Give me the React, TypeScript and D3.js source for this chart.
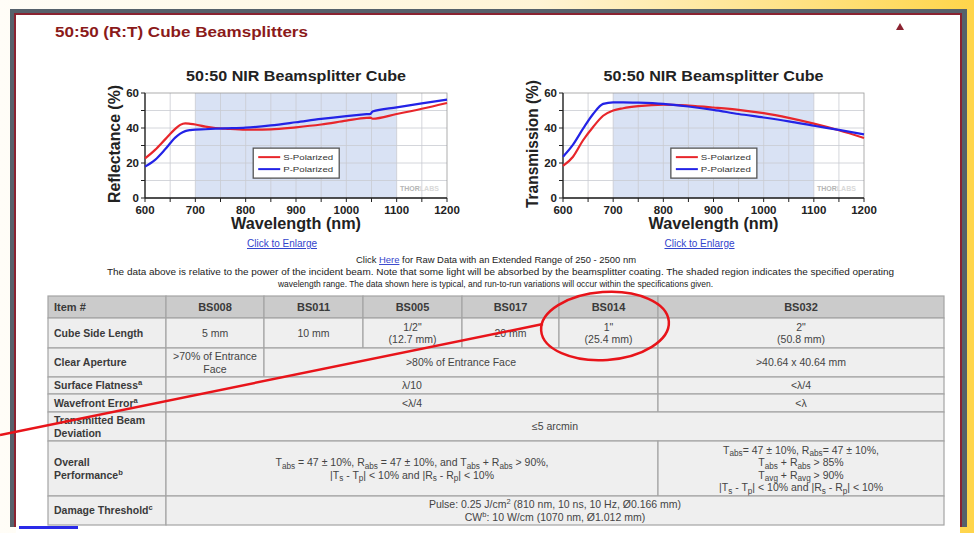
import React from "react";
import * as d3 from "d3";

// reflectance curves (wavelength nm -> %)
const wlR = [600, 620, 640, 660, 670, 680, 690, 700, 720, 740, 760, 800, 850, 900, 950, 1000, 1040, 1048, 1052, 1100, 1150, 1200];
const reflS = [22.6, 27.5, 33.5, 39.5, 41.8, 42.7, 42.4, 42, 40.8, 40, 39.6, 39, 39.2, 40.4, 42, 44.2, 45.8, 45.9, 45.3, 48, 51, 54.3];
const reflP = [17.9, 21.8, 27.8, 34.5, 36.8, 38.2, 38.8, 39.1, 39.3, 39.6, 39.8, 40.2, 41.5, 43.3, 45.2, 46.8, 47.9, 48.1, 49.4, 51.8, 54.1, 56.2];

// transmission curves
const wlT = [600, 620, 640, 660, 680, 700, 720, 750, 800, 850, 900, 950, 1000, 1050, 1100, 1150, 1200];
const transS = [18.3, 23.6, 33, 40.6, 47, 50, 51.3, 52.5, 53.4, 52.8, 51.7, 50.4, 48.5, 45.8, 42.5, 38.7, 34.3];
const transP = [23.6, 30.5, 39.6, 48, 53.8, 54.7, 54.7, 54.5, 53.8, 52.3, 50.4, 48, 46, 43.8, 41.3, 38.9, 36.4];

const xTicks = [600, 700, 800, 900, 1000, 1100, 1200];
const yTicks = [0, 20, 40, 60];
const shadedRange = [700, 1100];
const legendNames = ["S-Polarized", "P-Polarized"];

// table content
const headers = ["Item #", "BS008", "BS011", "BS005", "BS017", "BS014", "BS032"];
const rowLabels = [
  ["Cube Side Length"],
  ["Clear Aperture"],
  ["Surface Flatness^{a}"],
  ["Wavefront Error^{a}"],
  ["Transmitted Beam", "Deviation"],
  ["Overall", "Performance^{b}"],
  ["Damage Threshold^{c}"],
];
// [row, firstCol, lastCol, lines]
const cells: [number, number, number, string[]][] = [
  [0, 1, 1, ["5 mm"]],
  [0, 2, 2, ["10 mm"]],
  [0, 3, 3, ['1/2"', "(12.7 mm)"]],
  [0, 4, 4, ["20 mm"]],
  [0, 5, 5, ['1"', "(25.4 mm)"]],
  [0, 6, 6, ['2"', "(50.8 mm)"]],
  [1, 1, 1, [">70% of Entrance", "Face"]],
  [1, 2, 5, [">80% of Entrance Face"]],
  [1, 6, 6, [">40.64 x 40.64 mm"]],
  [2, 1, 5, ["λ/10"]],
  [2, 6, 6, ["<λ/4"]],
  [3, 1, 5, ["<λ/4"]],
  [3, 6, 6, ["<λ"]],
  [4, 1, 6, ["≤5 arcmin"]],
  [5, 1, 5, ["T_{abs} = 47 ± 10%, R_{abs} = 47 ± 10%, and T_{abs} + R_{abs} > 90%,", "|T_{s} - T_{p}| < 10% and |R_{s} - R_{p}| < 10%"]],
  [5, 6, 6, ["T_{abs}= 47 ± 10%, R_{abs}= 47 ± 10%,", "T_{abs} + R_{abs} > 85%", "T_{avg} + R_{avg} > 90%", "|T_{s} - T_{p}| < 10% and |R_{s} - R_{p}| < 10%"]],
  [6, 1, 6, ["Pulse: 0.25 J/cm^{2} (810 nm, 10 ns, 10 Hz, Ø0.166 mm)", "CW^{b}: 10 W/cm (1070 nm, Ø1.012 mm)"]],
];

const colEdges = [48, 166, 264, 363, 462, 559, 658, 944];
const rowEdges = [296, 318, 348, 377, 394, 412, 441, 496, 525];

const FONT = "Arial, 'Liberation Sans', sans-serif";
const RED = "#e8262b";
const BLUE = "#2323e6";

function Rich({ x, y, text, size, anchor = "middle", weight = "normal", fill = "#444" }: any) {
  const parts = text.split(/([_^]\{[^}]*\})/).filter((s: string) => s.length);
  let off = 0;
  return (
    <text x={x} y={y} textAnchor={anchor} fontSize={size} fontWeight={weight} fill={fill} fontFamily={FONT}>
      {parts.map((p: string, i: number) => {
        let target = 0;
        let content = p;
        let fs = size;
        if (p.startsWith("_{")) { target = size * 0.28; content = p.slice(2, -1); fs = size * 0.78; }
        else if (p.startsWith("^{")) { target = -size * 0.38; content = p.slice(2, -1); fs = size * 0.72; }
        const dy = target - off;
        off = target;
        return <tspan key={i} dy={dy} fontSize={fs}>{content}</tspan>;
      })}
    </text>
  );
}

function BeamChart({ left, right, title, yLabel, wl, s, p }: any) {
  const top = 93, bottom = 198;
  const x = d3.scaleLinear().domain([600, 1200]).range([left, right]);
  const y = d3.scaleLinear().domain([0, 60]).range([bottom, top]);
  const line = d3.line<number>().x((_, i) => x(wl[i])).y(d => y(d)).curve(d3.curveMonotoneX);
  const mid = (left + right) / 2;
  const vGrid = d3.range(650, 1200, 50);
  const hGrid = d3.range(10, 60, 10);
  const lgX = x(815), lgTop = y(28.5);
  return (
    <g fontFamily={FONT}>
      <text x={mid} y={81} textAnchor="middle" fontSize={14.5} fontWeight="bold" fill="#222" textLength={220} lengthAdjust="spacingAndGlyphs">{title}</text>
      <rect x={left} y={top} width={right - left} height={bottom - top} fill="#fff" />
      <rect x={x(shadedRange[0])} y={top} width={x(shadedRange[1]) - x(shadedRange[0])} height={bottom - top} fill="#d9e2f4" />
      {vGrid.map(v => <line key={"v" + v} x1={x(v)} x2={x(v)} y1={top} y2={bottom} stroke="#c9ccd2" strokeWidth={0.8} />)}
      {hGrid.map(v => <line key={"h" + v} x1={left} x2={right} y1={y(v)} y2={y(v)} stroke="#c9ccd2" strokeWidth={0.8} />)}
      <rect x={left} y={top} width={right - left} height={bottom - top} fill="none" stroke="#9a9a9a" strokeWidth={0.8} />
      <line x1={left} x2={left} y1={top} y2={bottom} stroke="#222" strokeWidth={1.3} />
      <line x1={left} x2={right} y1={bottom} y2={bottom} stroke="#222" strokeWidth={1.3} />
      {d3.range(0, 61, 10).map(v => <line key={"yt" + v} x1={left - 4} x2={left} y1={y(v)} y2={y(v)} stroke="#222" />)}
      {d3.range(600, 1201, 50).map(v => <line key={"xt" + v} x1={x(v)} x2={x(v)} y1={bottom} y2={bottom + 4} stroke="#222" />)}
      {yTicks.map(v => <text key={"yl" + v} x={left - 6} y={y(v) + 4} textAnchor="end" fontSize={11.5} fontWeight="bold" fill="#222">{v}</text>)}
      {xTicks.map(v => <text key={"xl" + v} x={x(v)} y={214} textAnchor="middle" fontSize={11.5} fontWeight="bold" fill="#222">{v}</text>)}
      <text transform={`translate(${left - 25},144) rotate(-90)`} textAnchor="middle" fontSize={16} fontWeight="bold" fill="#222" textLength={yLabel.length > 15 ? 128 : 118} lengthAdjust="spacingAndGlyphs">{yLabel}</text>
      <text x={mid} y={229} textAnchor="middle" fontSize={16} fontWeight="bold" fill="#222" textLength={130} lengthAdjust="spacingAndGlyphs">Wavelength (nm)</text>
      <text x={mid - 14} y={247} textAnchor="middle" fontSize={10} fill="#3344cc" textDecoration="underline">Click to Enlarge</text>
      <text x={right - 47} y={191} fontSize={7} fontWeight="bold" fill="#b5b5b5">THOR<tspan fill="#d8d8d8">LABS</tspan></text>
      <path d={line(s) ?? ""} fill="none" stroke={RED} strokeWidth={2.2} />
      <path d={line(p) ?? ""} fill="none" stroke={BLUE} strokeWidth={2.2} />
      <rect x={lgX} y={lgTop} width={86} height={30} fill="#fff" stroke="#555" strokeWidth={1.3} />
      {legendNames.map((n, i) => (
        <g key={n}>
          <line x1={lgX + 5} x2={lgX + 27} y1={lgTop + 9 + i * 12} y2={lgTop + 9 + i * 12} stroke={i === 0 ? RED : BLUE} strokeWidth={2} />
          <text x={lgX + 30} y={lgTop + 12 + i * 12} fontSize={8} fill="#333" textLength={50} lengthAdjust="spacingAndGlyphs">{n}</text>
        </g>
      ))}
    </g>
  );
}

function Table() {
  const lh = 12.5;
  const block = (lines: string[], cx: number, r: number, anchor: string, weight: string, fill: string, size: number) => {
    const cy = (rowEdges[r] + rowEdges[r + 1]) / 2;
    return lines.map((t, i) => (
      <Rich key={i} x={cx} y={cy + (i - (lines.length - 1) / 2) * lh + 3.8} text={t} size={size} anchor={anchor} weight={weight} fill={fill} />
    ));
  };
  return (
    <g>
      {headers.map((h, c) => (
        <g key={h}>
          <rect x={colEdges[c]} y={rowEdges[0]} width={colEdges[c + 1] - colEdges[c]} height={rowEdges[1] - rowEdges[0]} fill="#cbcbcb" stroke="#a4a4a4" strokeWidth={1.2} />
          {block([h], c === 0 ? colEdges[0] + 6 : (colEdges[c] + colEdges[c + 1]) / 2, 0, c === 0 ? "start" : "middle", "bold", "#3a3a3a", 11)}
        </g>
      ))}
      {rowLabels.map((l, r) => (
        <g key={"rl" + r}>
          <rect x={colEdges[0]} y={rowEdges[r + 1]} width={colEdges[1] - colEdges[0]} height={rowEdges[r + 2] - rowEdges[r + 1]} fill="#eeeeee" stroke="#a4a4a4" strokeWidth={1.2} />
          {block(l, colEdges[0] + 6, r + 1, "start", "bold", "#3a3a3a", 10.5)}
        </g>
      ))}
      {cells.map(([r, c0, c1, lines], k) => (
        <g key={"c" + k}>
          <rect x={colEdges[c0]} y={rowEdges[r + 1]} width={colEdges[c1 + 1] - colEdges[c0]} height={rowEdges[r + 2] - rowEdges[r + 1]} fill="#efefef" stroke="#a4a4a4" strokeWidth={1.2} />
          {block(lines, (colEdges[c0] + colEdges[c1 + 1]) / 2, r + 1, "middle", "normal", "#444", 10.5)}
        </g>
      ))}
    </g>
  );
}

export default function App() {
  return (
    <svg width={974} height={533} style={{ position: "absolute", left: 0, top: 0 }} fontFamily={FONT}>
      <defs>
        <linearGradient id="bg" x1="0" x2="1" y1="0" y2="0">
          <stop offset="0" stopColor="#fffdf7" />
          <stop offset="0.55" stopColor="#fff4d6" />
          <stop offset="0.8" stopColor="#ffe38a" />
          <stop offset="1" stopColor="#ffd54a" />
        </linearGradient>
      </defs>
      <rect width={974} height={533} fill="url(#bg)" />
      {/* page frame */}
      <rect x={10} y={9} width={957} height={518} fill="#56616b" />
      <rect x={14} y={13} width={948} height={514} fill="#8a2331" />
      <rect x={16} y={15} width={944} height={512} fill="#ffffff" />
      <rect x={16} y={527} width={944} height={6} fill="#ffffff" />
      <rect x={19} y={526} width={59} height={3} fill="#2a2ae8" />

      <text x={55} y={37} fontSize={15} fontWeight="bold" fill="#8b1a1a" textLength={253} lengthAdjust="spacingAndGlyphs">50:50 (R:T) Cube Beamsplitters</text>
      <path d="M896,30 L900,23 L904,30 Z" fill="#8b2331" />

      <BeamChart left={145} right={447} title="50:50 NIR Beamsplitter Cube" yLabel="Reflectance (%)" wl={wlR} s={reflS} p={reflP} />
      <BeamChart left={563} right={864} title="50:50 NIR Beamsplitter Cube" yLabel="Transmission (%)" wl={wlT} s={transS} p={transP} />

      <g fontSize={9.5} fill="#222">
        <text x={356} y={263} textLength={280} lengthAdjust="spacingAndGlyphs">Click <tspan fill="#3344cc" textDecoration="underline">Here</tspan> for Raw Data with an Extended Range of 250 - 2500 nm</text>
        <text x={107} y={275} textLength={787} lengthAdjust="spacingAndGlyphs">The data above is relative to the power of the incident beam. Note that some light will be absorbed by the beamsplitter coating. The shaded region indicates the specified operating</text>
        <text x={278} y={287} textLength={435} lengthAdjust="spacingAndGlyphs">wavelength range. The data shown here is typical, and run-to-run variations will occur within the specifications given.</text>
      </g>

      <Table />

      {/* annotation */}
      <line x1={0} y1={435} x2={543} y2={324} stroke="#e8141a" strokeWidth={2.5} />
      <ellipse cx={605} cy={326} rx={64} ry={34} fill="none" stroke="#e8141a" strokeWidth={2.5} transform="rotate(-4 605 326)" />
    </svg>
  );
}
